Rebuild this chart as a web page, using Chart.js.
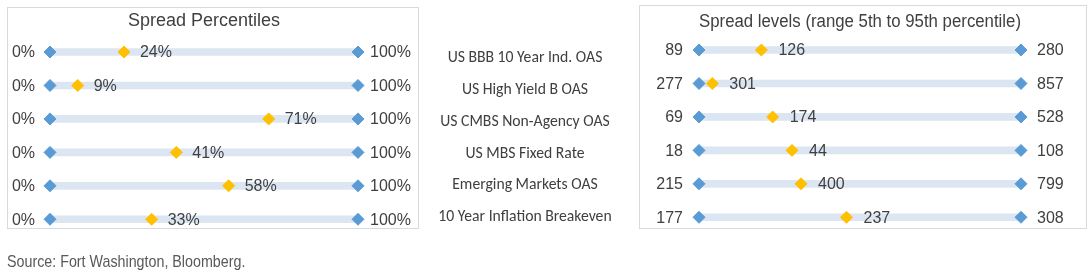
<!DOCTYPE html>
<html><head><meta charset="utf-8">
<script src="https://cdn.jsdelivr.net/npm/chart.js@4"></script>
<style>
html,body{margin:0;padding:0;background:#fff;width:1092px;height:277px;overflow:hidden;position:relative;font-family:"Liberation Sans",Arial,sans-serif;}
.panel{position:absolute;border:1px solid #d9d9d9;box-sizing:border-box;}
canvas{position:absolute;}
.mid{position:absolute;left:405px;width:240px;text-align:center;font-family:Carlito,Lato,sans-serif;font-size:15.7px;color:#404040;line-height:18px;margin-top:-9px;white-space:nowrap;}
#src{position:absolute;left:7px;top:252px;font-family:"Liberation Sans",sans-serif;font-size:17px;color:#595959;white-space:nowrap;transform:scaleX(0.84);transform-origin:0 0;}
</style></head>
<body>
<div class="panel" style="left:7px;top:7px;width:412px;height:222px"></div>
<div class="panel" style="left:639px;top:5px;width:448px;height:224px"></div>
<canvas id="cL" width="640" height="277" style="left:0;top:0"></canvas>
<canvas id="cR" width="452" height="277" style="left:640px;top:0"></canvas>
<div id="midLabels"></div>
<div id="src">Source: Fort Washington, Bloomberg.</div>
<script>
// ---- data ----
const categories = ["US BBB 10 Year Ind. OAS","US High Yield B OAS","US CMBS Non-Agency OAS","US MBS Fixed Rate","Emerging Markets OAS","10 Year Inflation Breakeven"];
const percentileLow = [0,0,0,0,0,0];
const percentileHigh = [100,100,100,100,100,100];
const percentileNow = [24,9,71,41,58,33];
const spread5th = [89,277,69,18,215,177];
const spread95th = [280,857,528,108,799,308];
const spreadNow = [126,301,174,44,400,237];
const midLabelY = [57,89,121,153,184,216];

const BLUE = '#5b9bd5', GOLD = '#ffc000', BAND = '#dce6f2', TXT = '#404040';

// middle category labels
const mid = document.getElementById('midLabels');
categories.forEach((c,i)=>{const d=document.createElement('div');d.className='mid';d.style.top=midLabelY[i]+'px';d.textContent=c;mid.appendChild(d);});

function labelPlugin(lowTxt, highTxt, nowTxt, gapL, gapR, gapV){
  return {id:'lbls', afterDatasetsDraw(chart){
    const ctx=chart.ctx; ctx.save();
    ctx.font='16px "Liberation Sans", Arial, sans-serif'; ctx.fillStyle=TXT; ctx.textBaseline='middle';
    const lowMeta=chart.getDatasetMeta(1), highMeta=chart.getDatasetMeta(2), nowMeta=chart.getDatasetMeta(3);
    categories.forEach((c,i)=>{
      const y=lowMeta.data[i].y;
      ctx.textAlign='right'; ctx.fillText(lowTxt[i], lowMeta.data[i].x-gapL, y+1);
      ctx.textAlign='left'; ctx.fillText(highTxt[i], highMeta.data[i].x+gapR, y+1);
      ctx.fillText(nowTxt[i], nowMeta.data[i].x+gapV, y+1);
    });
    ctx.restore();
  }};
}

function pointDs(data,color){
  return {type:'line',indexAxis:'y',data,showLine:false,clip:false,pointStyle:'rectRot',pointRadius:6,pointHoverRadius:6,
    backgroundColor:color,borderColor:color,borderWidth:1};
}

function makeChart(id, low, high, now, xmin, xmax, title, pad, tpad, lblPlugin){
  return new Chart(document.getElementById(id),{
    type:'bar',
    data:{labels:categories,datasets:[
      {type:'bar',indexAxis:'y',data:categories.map((c,i)=>[low[i],high[i]]),backgroundColor:BAND,barThickness:7,borderWidth:0,order:3},
      Object.assign(pointDs(low,BLUE),{order:1}),
      Object.assign(pointDs(high,BLUE),{order:1}),
      Object.assign(pointDs(now,GOLD),{order:0})
    ]},
    options:{indexAxis:'y',responsive:false,animation:false,devicePixelRatio:1,
      layout:{padding:pad},
      scales:{x:{display:false,min:xmin,max:xmax},y:{display:false,offset:true}},
      plugins:{legend:{display:false},tooltip:{enabled:false},
        title:{display:true,text:title,color:TXT,font:{family:'"Liberation Sans", Arial, sans-serif',size:18,weight:'normal',lineHeight:1.2},padding:tpad}}
    },
    plugins:[lblPlugin]
  });
}

// left: percentiles
makeChart('cL', percentileLow, percentileHigh, percentileNow, 0, 100, 'Spread Percentiles',
  {left:50,right:282,top:0,bottom:41}, {top:10.2,bottom:3.5},
  labelPlugin(percentileLow.map(v=>v+'%'), percentileHigh.map(v=>v+'%'), percentileNow.map(v=>v+'%'), 15, 12, 16));

// right: spread levels, each row placed on its own 5th–95th range
const posLow = spread5th.map(()=>0);
const posHigh = spread95th.map(()=>1);
const posNow = spreadNow.map((v,i)=>(v-spread5th[i])/(spread95th[i]-spread5th[i]));
makeChart('cR', posLow, posHigh, posNow, 0, 1, 'Spread levels (range 5th to 95th percentile)',
  {left:59,right:71,top:0,bottom:43}, {top:11.2,bottom:0.5},
  labelPlugin(spread5th.map(String), spread95th.map(String), spreadNow.map(String), 16, 16, 17));
</script>
</body></html>
